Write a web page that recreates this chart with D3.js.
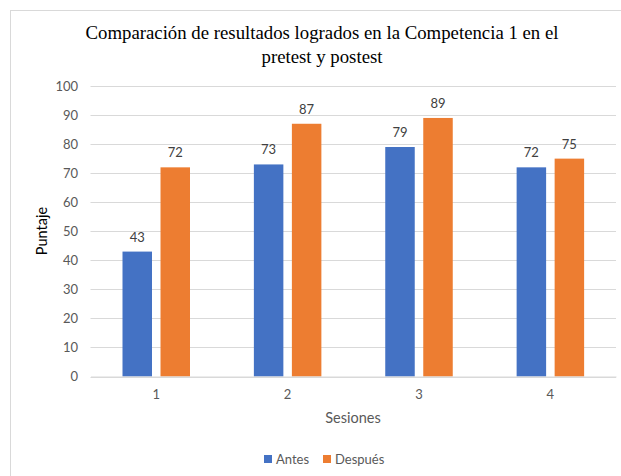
<!DOCTYPE html>
<html>
<head>
    <meta charset="utf-8">
    <script src="https://cdn.jsdelivr.net/npm/d3@7/dist/d3.min.js"></script>
    <style>
        * { margin: 0; padding: 0; }
        body { background: #fff; overflow: hidden; }
    </style>
</head>
<body>
<script>
    // data
    const sesiones = ['1', '2', '3', '4']
    const series = ['Antes', 'Después']
    const antes = [43, 73, 79, 72]
    const despues = [72, 87, 89, 75]
    const yTicks = [0, 10, 20, 30, 40, 50, 60, 70, 80, 90, 100]
    const colors = ['#4472C4', '#ED7D31']
    const titleLines = ['Comparación de resultados logrados en la Competencia 1 en el', 'pretest y postest']

    const W = 621, H = 476
    const sans = 'Lato, "Open Sans", sans-serif'
    const svg = d3.select('body').append('svg').attr('width', W).attr('height', H)

    // chart area border (runs off the bottom / right of the picture)
    svg.append('rect')
        .attr('x', 10.5).attr('y', 10.5)
        .attr('width', 640).attr('height', 500)
        .attr('fill', '#fff').attr('stroke', '#D9D9D9')

    // title
    svg.append('text')
        .attr('x', 322).attr('y', 39)
        .attr('text-anchor', 'middle')
        .style('font-family', '"Liberation Serif", "Times New Roman", serif')
        .style('font-size', '18.8px')
        .attr('fill', '#000')
        .selectAll('tspan').data(titleLines).join('tspan')
        .attr('x', 322).attr('dy', (d, i) => i == 0 ? 0 : 24)
        .text(d => d)

    const x0 = d3.scaleBand().domain(sesiones).range([90.5, 616]).paddingInner(0)
    const x1 = d3.scaleBand().domain(series).range([32, 99.5]).paddingInner(0.224)
    const y = d3.scaleLinear().domain([0, 100]).range([376.5, 86])

    // gridlines
    svg.append('g')
        .selectAll('line').data(yTicks).join('line')
        .attr('x1', 90.5).attr('x2', 616)
        .attr('y1', d => Math.round(y(d)) + 0.5).attr('y2', d => Math.round(y(d)) + 0.5)
        .attr('stroke', '#D9D9D9').attr('stroke-width', 1)

    // y axis labels
    const yAxis = svg.append('g').attr('transform', 'translate(90,0)')
        .call(d3.axisLeft(y).tickValues(yTicks).tickSize(0).tickPadding(12))
    yAxis.select('.domain').remove()
    yAxis.selectAll('text')
        .style('font-family', sans).style('font-size', '13px').attr('fill', '#595959')

    // bars
    const rows = sesiones.map((s, i) => ({ s: s, vals: [antes[i], despues[i]] }))
    const groups = svg.append('g').selectAll('g').data(rows).join('g')
        .attr('transform', d => 'translate(' + x0(d.s) + ',0)')

    groups.selectAll('rect').data(d => d.vals.map((v, j) => ({ k: series[j], v: v, j: j })))
        .join('rect')
        .attr('x', d => x1(d.k))
        .attr('width', x1.bandwidth())
        .attr('y', d => y(d.v))
        .attr('height', d => y(0) - y(d.v))
        .attr('fill', d => colors[d.j])

    // data labels
    groups.selectAll('text').data(d => d.vals.map((v, j) => ({ k: series[j], v: v })))
        .join('text')
        .attr('x', d => x1(d.k) + x1.bandwidth() / 2)
        .attr('y', d => y(d.v) - 10)
        .attr('text-anchor', 'middle')
        .style('font-family', sans).style('font-size', '13px')
        .attr('fill', '#404040')
        .text(d => d.v)

    // x axis
    const xAxis = svg.append('g').attr('transform', 'translate(0,376.5)')
        .call(d3.axisBottom(x0).tickSize(0).tickPadding(13))
    xAxis.select('.domain').attr('stroke', '#D9D9D9')
    xAxis.selectAll('text')
        .style('font-family', sans).style('font-size', '13px').attr('fill', '#595959')

    // axis titles
    svg.append('text')
        .attr('x', 353).attr('y', 423)
        .attr('text-anchor', 'middle')
        .style('font-family', sans).style('font-size', '14.5px')
        .attr('fill', '#595959')
        .text('Sesiones')

    svg.append('text')
        .attr('transform', 'translate(47,231) rotate(-90)')
        .attr('text-anchor', 'middle')
        .style('font-family', sans).style('font-size', '14.5px')
        .attr('fill', '#000')
        .text('Puntaje')

    // legend
    const legX = [264, 323]
    const leg = svg.append('g').selectAll('g').data(series).join('g')
        .attr('transform', (d, i) => 'translate(' + legX[i] + ',455)')
    leg.append('rect').attr('width', 8).attr('height', 8)
        .attr('fill', (d, i) => colors[i])
    leg.append('text')
        .attr('x', 12).attr('y', 8.5)
        .style('font-family', sans).style('font-size', '13px')
        .attr('fill', '#595959')
        .text(d => d)
</script>
</body>
</html>
